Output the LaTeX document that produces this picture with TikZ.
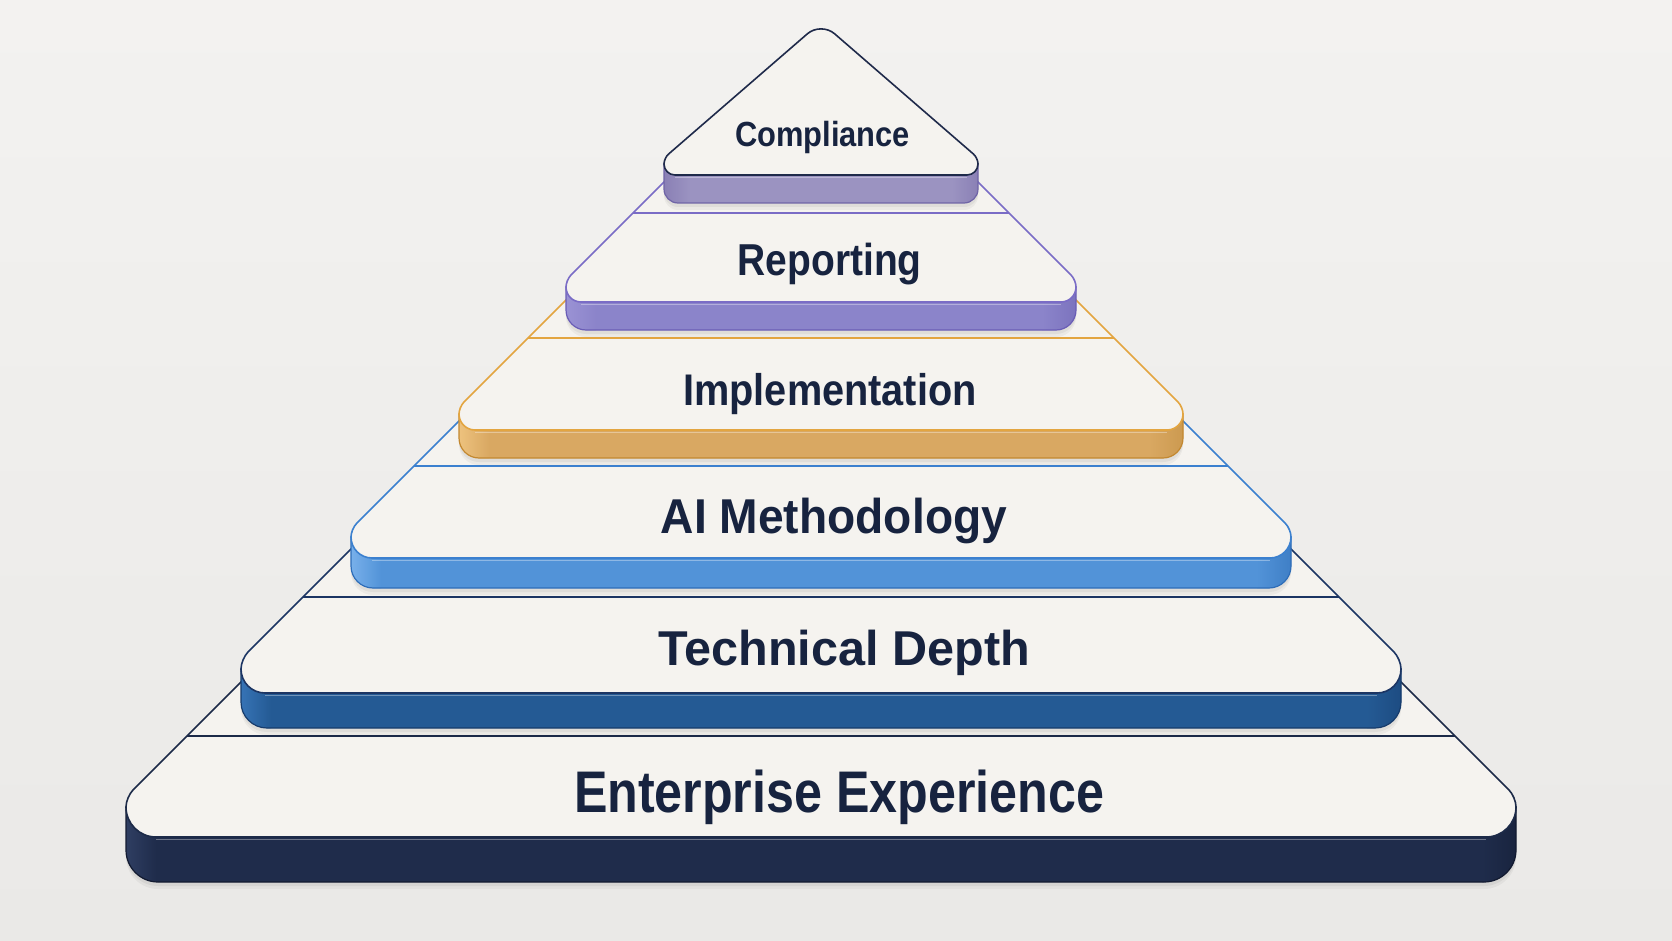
\documentclass[tikz,border=0pt]{standalone}
\usepackage{fontspec}
\setmainfont{Liberation Sans}
\definecolor{bgA}{HTML}{F3F2F0}
\definecolor{bgB}{HTML}{EAE9E7}
\definecolor{facefill}{HTML}{F5F3EF}
\definecolor{txt}{HTML}{17233F}
% Compliance
\definecolor{lnC}{HTML}{1F2A4A}
\definecolor{bmC}{HTML}{9B93C1}
\definecolor{blC}{HTML}{A39BC8}
\definecolor{brC}{HTML}{8A80B5}
\definecolor{boC}{HTML}{6F64A6}
% Reporting
\definecolor{lnR}{HTML}{7A6CC6}
\definecolor{bmR}{HTML}{8B84CA}
\definecolor{blR}{HTML}{9A92D4}
\definecolor{brR}{HTML}{7C73BE}
\definecolor{boR}{HTML}{6A5DB6}
% Implementation
\definecolor{lnI}{HTML}{E3A540}
\definecolor{bmI}{HTML}{D9A862}
\definecolor{blI}{HTML}{EDC27E}
\definecolor{brI}{HTML}{CC9A50}
\definecolor{boI}{HTML}{C38830}
% AI Methodology
\definecolor{lnA}{HTML}{3B80CF}
\definecolor{bmA}{HTML}{5293D8}
\definecolor{blA}{HTML}{78B0EA}
\definecolor{brA}{HTML}{3F7FC6}
\definecolor{boA}{HTML}{2E6DB8}
% Technical Depth
\definecolor{lnT}{HTML}{1C3563}
\definecolor{bmT}{HTML}{245A94}
\definecolor{blT}{HTML}{3673B5}
\definecolor{brT}{HTML}{1D4C82}
\definecolor{boT}{HTML}{173C6C}
% Enterprise
\definecolor{lnE}{HTML}{1C2A48}
\definecolor{bmE}{HTML}{1F2C4B}
\definecolor{blE}{HTML}{2F3E62}
\definecolor{brE}{HTML}{19243F}
\definecolor{boE}{HTML}{121A30}
\tikzset{
  lbl/.style={inner sep=0pt, outer sep=0pt, text=txt, font=\bfseries, anchor=base},
  facestyle/.style={fill=facefill, line width=1.6pt, line join=round},
  ledgeline/.style={line width=1.6pt},
  bandout/.style={line width=1.2pt},
}
\begin{document}
\begin{tikzpicture}[x=1pt,y=-1pt]
\def\cx{821}
\useasboundingbox (0,0) rectangle (1672,941);
\shade[top color=bgA, bottom color=bgB] (0,0) rectangle (1672,941);

\foreach \yl/\wl/\W/\yb/\ybd/\wup/\ra/\rf/\rb/\t in {
  736/634/695/837/882/580/10/30/32/E,
  597/518/580/693/728/470/10/24/26/T,
  466/407/470/558/588/362/8/21/22/A,
  338/293/362/430/458/255/7/16/20/I,
  213/188/255/302/330/157/7/15/20/R}{
  \pgfmathsetmacro\yv{\yl+\W-\wl}
  \pgfmathsetmacro\yt{\yl-(\wl-\wup+10)}
  \pgfmathsetmacro\wt{\wup-10}
  \pgfmathsetmacro\bt{\yb-\rf}
  \def\bandpath{({\cx-\W},\bt) [rounded corners=\rb pt] -- ({\cx-\W},\ybd) -- ({\cx+\W},\ybd) [sharp corners] -- ({\cx+\W},\bt) -- cycle}
  % shadow
  \begin{scope}[yshift=-7pt]\fill[black,opacity=.04] \bandpath;\end{scope}
  \begin{scope}[yshift=-4pt]\fill[black,opacity=.05] \bandpath;\end{scope}
  % band
  \fill[bm\t] \bandpath;
  \begin{scope}
    \clip \bandpath;
    \shade[left color=bl\t, right color=bm\t] ({\cx-\W},\bt) rectangle ({\cx-\W+30},\ybd);
    \shade[left color=bm\t, right color=br\t] ({\cx+\W-34},\bt) rectangle ({\cx+\W},\ybd);
  \end{scope}
  \draw[bo\t, bandout] \bandpath;
  \draw[white, opacity=.35, line width=1.5pt] ({\cx-\W+\rf},{\yb+2.5}) -- ({\cx+\W-\rf},{\yb+2.5});
  % face
  \path[facestyle, draw=ln\t]
    ({\cx-\wt},\yt) [rounded corners=\ra pt] -- ({\cx-\W},\yv) [rounded corners=\rf pt] -- ({\cx-\W},\yb)
    -- ({\cx+\W},\yb) [rounded corners=\ra pt] -- ({\cx+\W},\yv) [sharp corners] -- ({\cx+\wt},\yt) -- cycle;
  % ledge line
  \draw[ln\t, ledgeline] ({\cx-\wl},\yl) -- ({\cx+\wl},\yl);
}

% Compliance (top)
\def\bandpath{(664,164) [rounded corners=14pt] -- (664,203) -- (978,203) [sharp corners] -- (978,164) -- cycle}
\begin{scope}[yshift=-7pt]\fill[black,opacity=.04] \bandpath;\end{scope}
\begin{scope}[yshift=-4pt]\fill[black,opacity=.05] \bandpath;\end{scope}
\fill[bmC] \bandpath;
\begin{scope}
  \clip \bandpath;
  \shade[left color=brC, right color=bmC] (664,164) rectangle (690,203);
  \shade[left color=bmC, right color=brC] (952,164) rectangle (978,203);
\end{scope}
\draw[boC, bandout] \bandpath;
\draw[white, opacity=.35, line width=1.5pt] (675,177.5) -- (967,177.5);
\path[facestyle, draw=lnC]
  (821,175) [rounded corners=11pt] -- (664,175) [rounded corners=6pt] -- (664,158) [rounded corners=18pt]
  -- (821,22) [rounded corners=6pt] -- (978,158) [rounded corners=11pt] -- (978,175) [sharp corners] -- cycle;

% labels
\node[lbl] (tC) at (822.5,146.5) {\fontsize{34.9}{36}\selectfont\scalebox{0.884}[1]{Compliance}};
\node[lbl] (tR) at (829.7,276) {\fontsize{44.7}{46}\selectfont\scalebox{0.872}[1]{Reporting}};
\node[lbl] (tI) at (830,405) {\fontsize{44.3}{46}\selectfont\scalebox{0.896}[1]{Implementation}};
\node[lbl] (tA) at (834,533) {\fontsize{48.9}{50}\selectfont\scalebox{0.944}[1]{AI Methodology}};
\node[lbl] (tT) at (844.2,665) {\fontsize{48.9}{50}\selectfont\scalebox{0.993}[1]{Technical Depth}};
\node[lbl] (tE) at (839,812) {\fontsize{58.7}{60}\selectfont\scalebox{0.855}[1]{Enterprise Experience}};
\end{tikzpicture}
\end{document}
